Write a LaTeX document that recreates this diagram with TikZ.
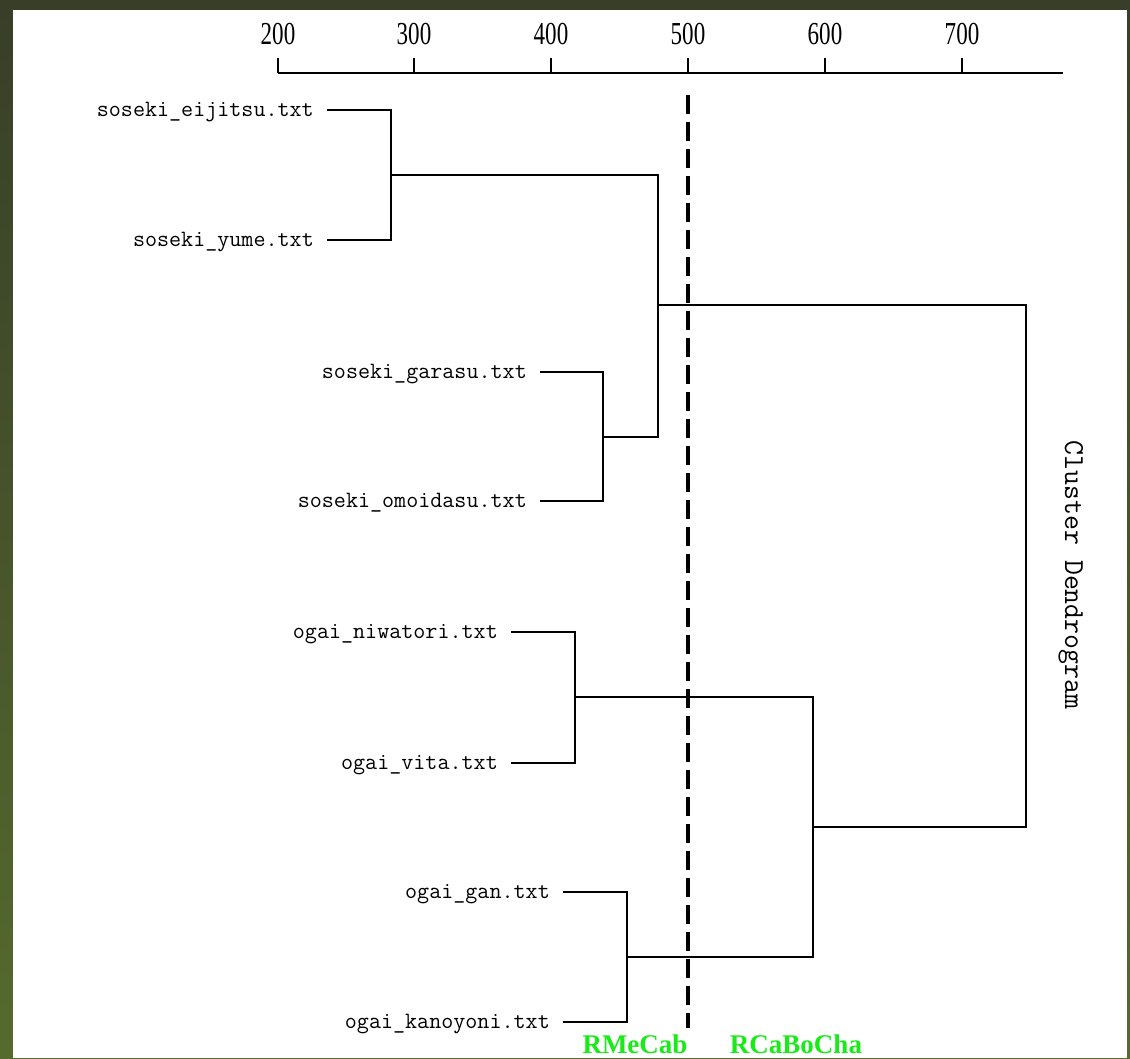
\documentclass[tikz,border=0pt]{standalone}
\usepackage{fontspec}
\usepackage{graphicx}
\newfontfamily\serifbold{Liberation Serif}
\newfontfamily\axisserif{Liberation Serif}
\definecolor{bgtop}{RGB}{56,62,40}
\definecolor{bgbot}{RGB}{86,106,46}
\definecolor{limegreen}{RGB}{25,235,25}
\begin{document}
\begin{tikzpicture}[x=1pt,y=-1pt,
  leaf/.style={anchor=east, inner sep=0pt, text height=14pt, text depth=2pt,
               font=\fontsize{23.4}{23.4}\selectfont\ttfamily},
  ticklab/.style={anchor=base, inner sep=0pt, font=\fontsize{32}{32}\selectfont\axisserif},
  titlelab/.style={anchor=base, inner sep=0pt, rotate=-90, font=\fontsize{29}{29}\selectfont\ttfamily},
  methodlab/.style={anchor=base, inner sep=0pt, text=limegreen, font=\fontsize{27}{27}\selectfont\serifbold\bfseries},
  link/.style={line width=1.9pt, black, line join=miter},
  axisline/.style={line width=1.9pt, black},
  cutline/.style={line width=3.3pt, black, dash pattern=on 19pt off 8pt}]
\useasboundingbox (0,0) rectangle (1130,1058);
% background frame
\shade[top color=bgtop, bottom color=bgbot] (0,0) rectangle (1130,1058);
\fill[white] (13,10) rectangle (1127,1058);

% axis
\coordinate (axL) at (278,73);
\coordinate (axR) at (1063,73);
\draw[axisline] (axL) -- (axR);
\foreach \v/\xx in {200/278,300/414,400/551,500/688,600/825,700/962}{
  \coordinate (tk\v) at (\xx,73);
  \draw[axisline] (tk\v) -- ++(0,-15);
  \node[ticklab] (t\v) at (\xx,44) {\scalebox{0.72}[1]{\v}};
}

% leaf labels
\node[leaf] (eij) at (314,110) {soseki\_eijitsu.txt};
\node[leaf] (yum) at (314,240) {soseki\_yume.txt};
\node[leaf] (gar) at (527,372) {soseki\_garasu.txt};
\node[leaf] (omo) at (527,501) {soseki\_omoidasu.txt};
\node[leaf] (niw) at (498,632) {ogai\_niwatori.txt};
\node[leaf] (vit) at (498,763) {ogai\_vita.txt};
\node[leaf] (gan) at (550,892) {ogai\_gan.txt};
\node[leaf] (kan) at (550,1022) {ogai\_kanoyoni.txt};

% merge points
\coordinate (m1) at (391,175);
\coordinate (m2) at (603,437);
\coordinate (m3) at (658,305);
\coordinate (m4) at (575,697);
\coordinate (m5) at (627,957);
\coordinate (m6) at (813,827);
\coordinate (m7) at (1026,566);

\draw[link] ([xshift=13pt]eij.east) -| (m1) |- ([xshift=13pt]yum.east);
\draw[link] ([xshift=13pt]gar.east) -| (m2) |- ([xshift=13pt]omo.east);
\draw[link] ([xshift=13pt]niw.east) -| (m4) |- ([xshift=13pt]vit.east);
\draw[link] ([xshift=13pt]gan.east) -| (m5) |- ([xshift=13pt]kan.east);
\draw[link] (m1) -| (m3) |- (m2);
\draw[link] (m4) -| (m6) |- (m5);
\draw[link] (m3) -| (m7) |- (m6);

% title
\node[titlelab] (title) at (1065,575) {Cluster Dendrogram};

% cut line
\coordinate (cutTop) at (688,95);
\coordinate (cutBot) at (688,1028);
\draw[cutline] (cutTop) -- (cutBot);

% method labels
\node[methodlab] (rmecab) at (635,1053) {RMeCab};
\node[methodlab] (rcabocha) at (796,1053) {RCaBoCha};
\end{tikzpicture}
\end{document}
